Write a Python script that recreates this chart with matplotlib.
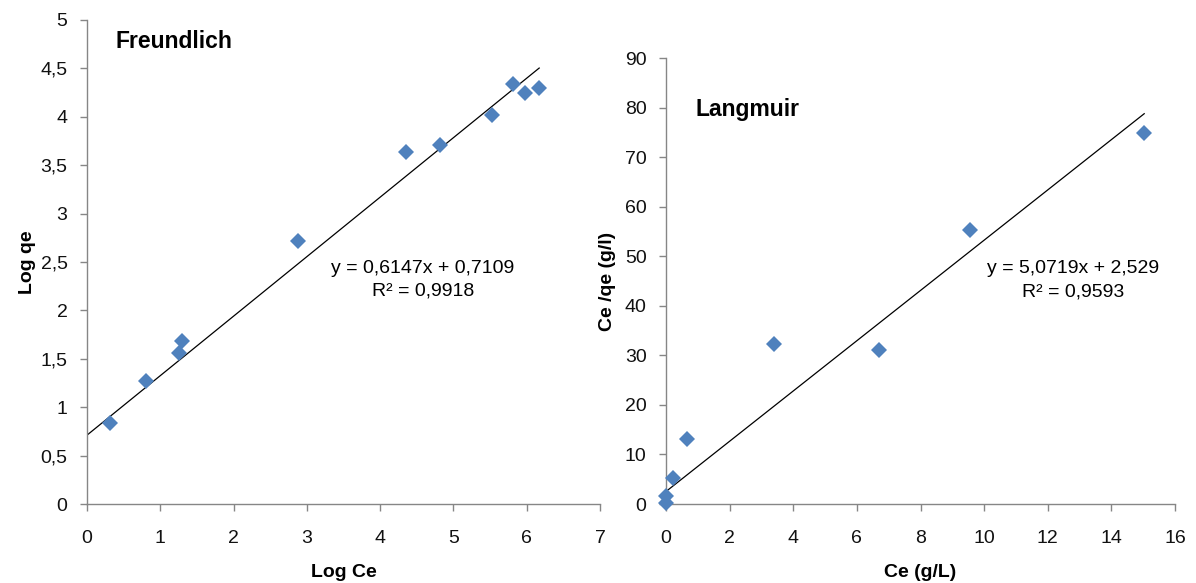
import numpy as np
import matplotlib.pyplot as plt
from matplotlib.ticker import FuncFormatter

plt.rcParams['font.family'] = ['Liberation Sans', 'DejaVu Sans']

# Freundlich data
log_ce = [0.31, 0.80, 1.25, 1.30, 2.88, 4.35, 4.82, 5.52, 5.81, 5.98, 6.17]
log_qe = [0.84, 1.27, 1.56, 1.68, 2.72, 3.64, 3.71, 4.02, 4.34, 4.25, 4.30]
fr_slope, fr_icpt = 0.6147, 0.7109

# Langmuir data
ce = [0.0, 0.01, 0.22, 0.66, 3.40, 6.70, 9.56, 15.03]
ce_qe = [0.3, 1.6, 5.2, 13.1, 32.3, 31.1, 55.3, 74.9]
la_slope, la_icpt = 5.0719, 2.529

blue = '#4F81BD'
grey = '#868686'


def comma_fmt(v, pos):
    s = ('%g' % v)
    return s.replace('.', ',')


def style_axis(ax):
    for s in ['top', 'right']:
        ax.spines[s].set_visible(False)
    for s in ['left', 'bottom']:
        ax.spines[s].set_color(grey)
        ax.spines[s].set_linewidth(1.0)
    ax.tick_params(axis='both', direction='out', length=5, width=1.0,
                   color=grey, labelsize=14, labelcolor='#111111')
    ax.tick_params(axis='x', pad=14)
    ax.tick_params(axis='y', pad=9)
    ax.xaxis.set_major_formatter(FuncFormatter(comma_fmt))
    ax.yaxis.set_major_formatter(FuncFormatter(comma_fmt))


fig = plt.figure(figsize=(11.96, 5.83), dpi=100)

# left: Freundlich
ax1 = fig.add_axes([0.0727, 0.1355, 0.4290, 0.8302])
ax1.plot(log_ce, log_qe, 'D', color=blue, markersize=8.5, markeredgewidth=0,
         clip_on=False, zorder=3)
xl = np.array([0, max(log_ce)])
ax1.plot(xl, fr_slope * xl + fr_icpt, color='black', lw=0.9)
ax1.set_xlim(0, 7)
ax1.set_ylim(0, 5)
ax1.set_xticks(np.arange(0, 8, 1))
ax1.set_yticks(np.arange(0, 5.01, 0.5))
style_axis(ax1)
ax1.text(0.055, 0.955, 'Freundlich', transform=ax1.transAxes, fontsize=16.5,
         fontweight='bold', va='center', ha='left')
ax1.text(0.655, 0.463, 'y = 0,6147x + 0,7109\nR² = 0,9918', transform=ax1.transAxes,
         fontsize=14, ha='center', va='center', linespacing=1.45)
ax1.set_xlabel('Log Ce', fontsize=14, fontweight='bold', labelpad=12)
ax1.set_ylabel('Log qe', fontsize=14, fontweight='bold', labelpad=3)

# right: Langmuir
ax2 = fig.add_axes([0.5569, 0.1355, 0.4256, 0.7650])
ax2.plot(ce, ce_qe, 'D', color=blue, markersize=8.5, markeredgewidth=0,
         clip_on=False, zorder=3)
xr = np.array([0, max(ce)])
ax2.plot(xr, la_slope * xr + la_icpt, color='black', lw=0.9)
ax2.set_xlim(0, 16)
ax2.set_ylim(0, 90)
ax2.set_xticks(np.arange(0, 17, 2))
ax2.set_yticks(np.arange(0, 91, 10))
style_axis(ax2)
ax2.text(0.057, 0.885, 'Langmuir', transform=ax2.transAxes, fontsize=16.5,
         fontweight='bold', va='center', ha='left')
ax2.text(0.8, 0.502, 'y = 5,0719x + 2,529\nR² = 0,9593', transform=ax2.transAxes,
         fontsize=14, ha='center', va='center', linespacing=1.45)
ax2.set_xlabel('Ce (g/L)', fontsize=14, fontweight='bold', labelpad=12)
ax2.set_ylabel('Ce /qe (g/l)', fontsize=14, fontweight='bold', labelpad=6)

fig.savefig('out.png', dpi=100)
